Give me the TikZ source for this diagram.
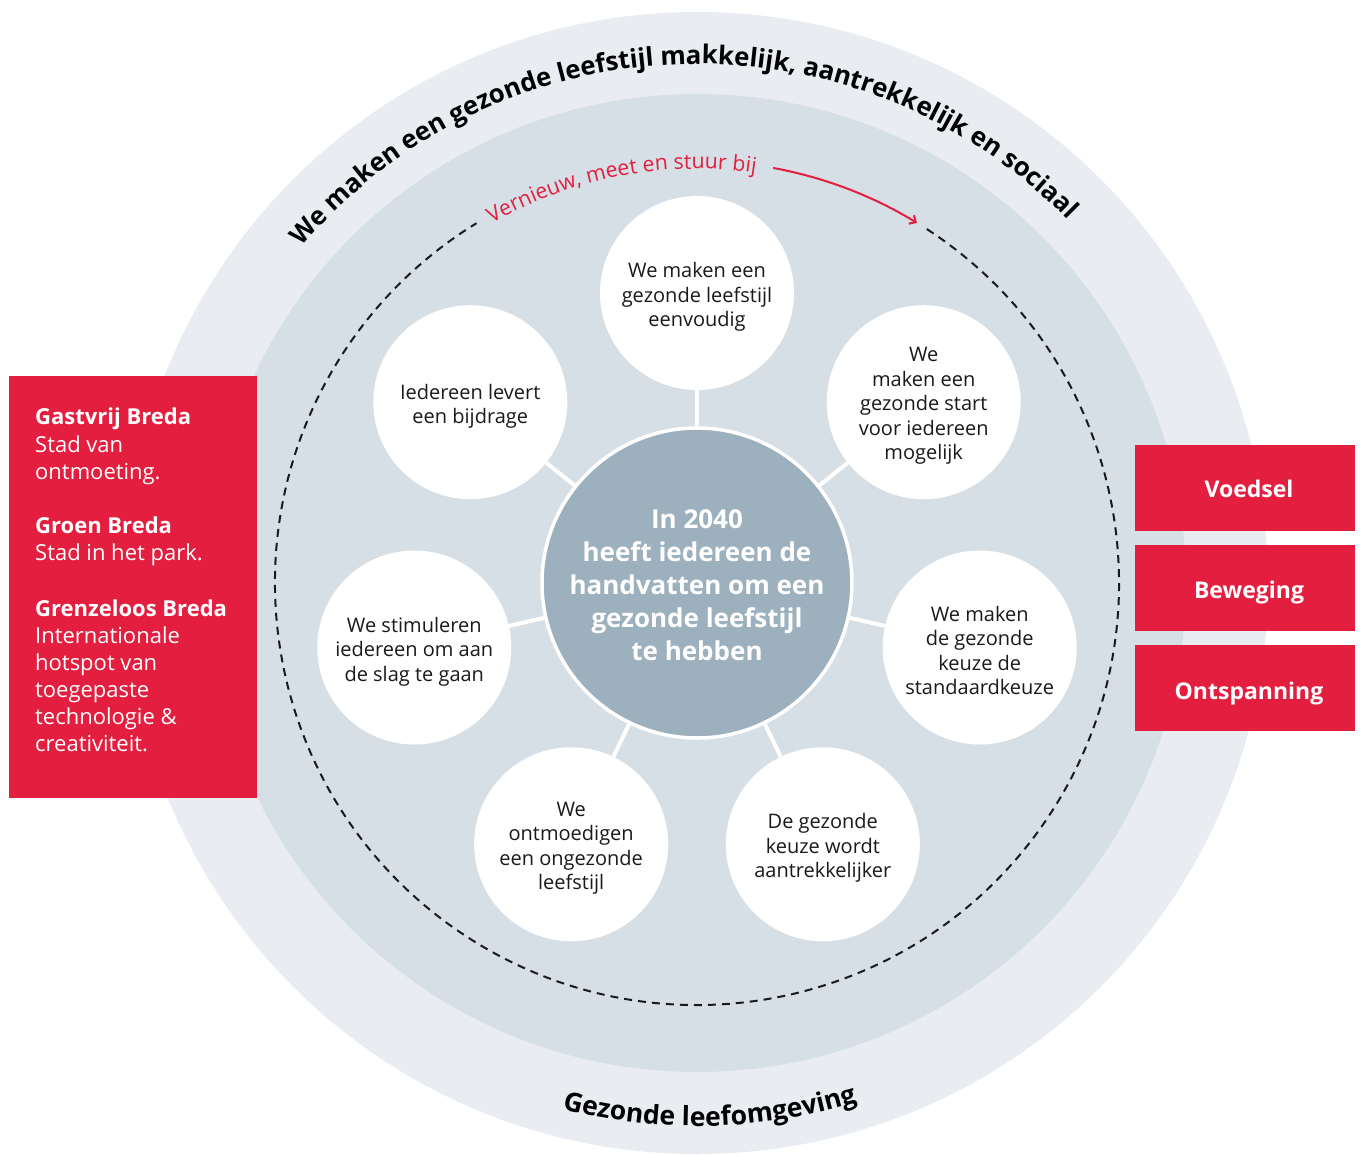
\documentclass[tikz,border=0pt]{standalone}
\usepackage{fontspec}
\setmainfont{Open Sans}
\usetikzlibrary{decorations.text,arrows.meta}
\definecolor{outerband}{HTML}{E9EDF1}
\definecolor{innerband}{HTML}{D6DFE6}
\definecolor{coreblue}{HTML}{9DB0BE}
\definecolor{bredared}{HTML}{E31E3F}
\definecolor{inktext}{HTML}{1A1A1A}
\begin{document}
\begin{tikzpicture}[x=1pt,y=1pt,
  satcircle/.style={circle,fill=white,minimum size=194pt,inner sep=0pt},
  sattext/.style={align=center,text=inktext,inner sep=0pt,font=\fontsize{20}{24.5}\selectfont},
  coretext/.style={align=center,text=white,inner sep=0pt,font=\fontsize{26}{33}\selectfont\bfseries},
  conn/.style={draw=white,line width=4pt},
  redbox/.style={fill=bredared,draw=none},
  boxlabel/.style={anchor=base,text=white,inner sep=0pt,font=\fontsize{23}{27}\selectfont\bfseries},
  lefttext/.style={anchor=base west,text=white,inner sep=0pt,font=\fontsize{22}{27}\selectfont},
  leftbold/.style={anchor=base west,text=white,inner sep=0pt,font=\fontsize{22}{27}\selectfont\bfseries},
]
\useasboundingbox (-697,-571) rectangle (665,583);
\fill[white] (-697,-571) rectangle (665,583);
% bands
\fill[outerband] (0,0) circle[radius=571];
\fill[innerband] (0,0) circle[radius=489];
% dashed cycle
\draw[inktext,line width=2pt,dash pattern=on 8pt off 6pt] (57:422) arc[start angle=57,end angle=-238.5,radius=422];
% red label along cycle
\path[decorate,decoration={text along path,text align=center,
  text={|\fontsize{21.3}{25}\selectfont\color{bredared}|Vernieuw, meet en stuur bij}}]
  (160.8:414) arc[start angle=160.8,end angle=40.8,radius=414];
\coordinate (arrowstart) at (79.6:422);
\draw[bredared,line width=2pt,-{Straight Barb[length=5pt,width=10pt]}] (arrowstart) arc[start angle=79.6,end angle=58.6,radius=422];
% curved titles
\path[decorate,decoration={text along path,text align=center,
  text={|\fontsize{25.8}{30}\selectfont\bfseries\color{black}|We maken een gezonde leefstijl makkelijk, aantrekkelijk en sociaal}}]
  (182:519) arc[start angle=182,end angle=2,radius=519];
\path[decorate,decoration={text along path,text align=center,
  text={|\fontsize{26.5}{30}\selectfont\bfseries\color{black}|Gezonde leefomgeving}}]
  (211.4:543) arc[start angle=211.4,end angle=331.4,radius=543];
% core and satellites
\node[circle,fill=coreblue,draw=white,line width=3.5pt,minimum size=310pt,inner sep=0pt] (core) at (0,0) {};
\node[satcircle] (s1) at (90:290) {};
\node[satcircle] (s2) at (38.571:290) {};
\node[satcircle] (s3) at (-12.857:290) {};
\node[satcircle] (s4) at (-64.286:290) {};
\node[satcircle] (s5) at (-115.714:290) {};
\node[satcircle] (s6) at (-167.143:290) {};
\node[satcircle] (s7) at (141.429:290) {};
\foreach \s in {s1,s2,s3,s4,s5,s6,s7} {\draw[conn] (core) -- (\s);}
\node[coretext] (coret) at (0,-2) {In 2040\\heeft iedereen de\\handvatten om een\\gezonde leefstijl\\te hebben};
\node[sattext] (t1) at ([yshift=-4pt]s1.center) {We maken een\\gezonde leefstijl\\eenvoudig};
\node[sattext] (t2) at ([yshift=-4pt]s2.center) {We\\maken een\\gezonde start\\voor iedereen\\mogelijk};
\node[sattext] (t3) at ([yshift=-3pt]s3.center) {We maken\\de gezonde\\keuze de\\standaardkeuze};
\node[sattext] (t4) at ([yshift=-4pt]s4.center) {De gezonde\\keuze wordt\\aantrekkelijker};
\node[sattext] (t5) at ([yshift=-4pt]s5.center) {We\\ontmoedigen\\een ongezonde\\leefstijl};
\node[sattext] (t6) at ([yshift=-4pt]s6.center) {We stimuleren\\iedereen om aan\\de slag te gaan};
\node[sattext] (t7) at ([yshift=-4pt]s7.center) {Iedereen levert\\een bijdrage};
% left red panel
\fill[redbox] (-688,207) rectangle (-440,-215);
\node[leftbold] (l1) at (-662,158) {Gastvrij Breda};
\node[lefttext] (l2) at (-662,131) {Stad van};
\node[lefttext] (l3) at (-662,104) {ontmoeting.};
\node[leftbold] (l4) at (-662,50) {Groen Breda};
\node[lefttext] (l5) at (-662,23) {Stad in het park.};
\node[leftbold] (l6) at (-662,-33) {Grenzeloos Breda};
\node[lefttext] (l7) at (-662,-60) {Internationale};
\node[lefttext] (l8) at (-662,-87) {hotspot van};
\node[lefttext] (l9) at (-662,-114) {toegepaste};
\node[lefttext] (l10) at (-662,-141) {technologie \&};
\node[lefttext] (l11) at (-662,-168) {creativiteit.};
% right red boxes
\fill[redbox] (438,138) rectangle (658,52);
\fill[redbox] (438,38) rectangle (658,-48);
\fill[redbox] (438,-62) rectangle (658,-148);
\node[boxlabel] (b1) at (552,86) {Voedsel};
\node[boxlabel] (b2) at (552,-15) {Beweging};
\node[boxlabel] (b3) at (552,-116) {Ontspanning};
\end{tikzpicture}
\end{document}
